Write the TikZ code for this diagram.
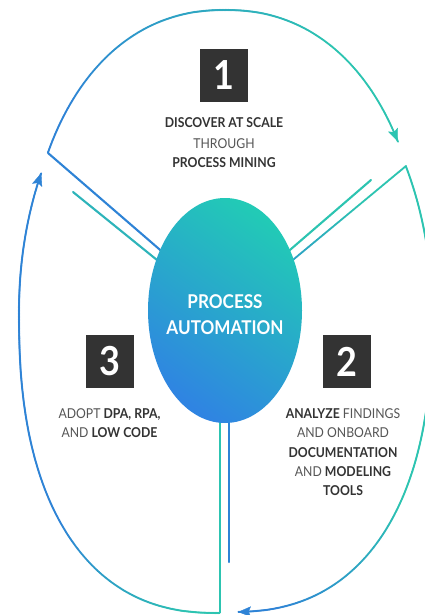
\documentclass[tikz,border=0pt]{standalone}
\usepackage{fontspec}
\setmainfont{Lato}[FakeStretch=0.9]
\usetikzlibrary{decorations.markings,arrows.meta,shapes.geometric}
\definecolor{cblue}{HTML}{2E83D6}
\definecolor{cteal}{HTML}{2CC4B1}
\definecolor{eblue}{HTML}{2F84E2}
\definecolor{eteal}{HTML}{22CAB6}
\definecolor{boxgray}{HTML}{333333}
\definecolor{txtdark}{HTML}{333333}
\definecolor{txtlight}{HTML}{555555}
\newcommand\boldpart[1]{{\color{txtdark}\bfseries #1}}
\tikzset{
  declare function={
    spx(\t,\n)=(cos(\t)<0 ? -1 : 1)*pow(abs(cos(\t)),2/\n);
    spy(\t,\n)=(sin(\t)<0 ? -1 : 1)*pow(abs(sin(\t)),2/\n);
  },
  grad/.style n args={4}{postaction={decorate}, decoration={markings,
     mark=between positions 0 and 1 step 0.6pt with {
       \pgfmathsetmacro\gfrac{(\pgfkeysvalueof{/pgf/decoration/mark info/distance from start}/\pgfdecoratedpathlength - #3)/(#4-#3)}
       \pgfmathtruncatemacro\gp{100*max(0,min(1,\gfrac))}
       \fill[#2!\gp!#1] (0,0) circle (1.05pt);
     }}},
  gradarrow/.style n args={5}{postaction={decorate}, decoration={markings,
     mark=between positions 0 and 1 step 0.6pt with {
       \pgfmathsetmacro\gfrac{(\pgfkeysvalueof{/pgf/decoration/mark info/distance from start}/\pgfdecoratedpathlength - #3)/(#4-#3)}
       \pgfmathtruncatemacro\gp{100*max(0,min(1,\gfrac))}
       \fill[#2!\gp!#1] (0,0) circle (1.05pt);
     },
     mark=at position 1 with {\arrow{Stealth[length=13pt,width=10.5pt,inset=2.5pt,color=#5]}}}},
  solidline/.style={line width=2.1pt},
  numbox/.style={fill=boxgray, text=white, minimum width=48pt, minimum height=53pt, inner sep=0pt,
     font=\bfseries\fontsize{40}{40}\selectfont},
  tline/.style={anchor=base, inner sep=0pt, text=txtlight, font=\fontsize{13.6}{13.6}\selectfont},
  ctext/.style={anchor=base, inner sep=0pt, text=white, font=\bfseries\fontsize{19}{19}\selectfont},
}
\begin{document}
\begin{tikzpicture}[x=1pt,y=-1pt]
\useasboundingbox (0,0) rectangle (425,615);
\fill[white] (0,0) rectangle (425,615);
% apexes and corners
\coordinate (a1) at (225,306);
\coordinate (a2) at (229,313);
\coordinate (a3) at (220,311);
\coordinate (c1) at (48,153);
\coordinate (f1) at (371,180);
\coordinate (c2) at (406,166);
\coordinate (f2) at (229,562);
\coordinate (c3) at (220,613);
\coordinate (f3) at (73,192);
% radial lines
\draw[solidline, cblue, line cap=round] (c1) -- (a1);
\draw[solidline, cteal, line cap=round] (f1) -- (a1);
\path[grad={cteal}{cblue}{0.25}{1}] (c2) -- (a2);
\draw[solidline, cblue, line cap=round] (f2) -- (a2);
\draw[solidline, cteal] (c3) -- (a3);
\draw[solidline, cteal!75!cblue, line cap=round] (f3) -- (a3);
% arcs
\path[gradarrow={cblue}{cteal}{0.1}{0.75}{cteal}]
  plot[domain=150.96:31.55, samples=81] ({225+200*spx(\x,2.2)},{306-296*spy(\x,2.2)});
\path[gradarrow={cteal}{cblue}{0.62}{0.93}{cblue}]
  plot[domain=-29.3:88.63, samples=121] ({229+203*spx(\x,(\x<0 ? 2 : 2.4))},{313+299*spy(\x,(\x<0 ? 2 : 2.4))});
\path[gradarrow={cteal}{cblue}{0.05}{0.35}{cblue}]
  plot[domain=90.05:207.2, samples=121] ({220+201*spx(\x,(\x<180 ? 2.4 : 2))},{311+302*spy(\x,(\x<180 ? 2.4 : 2))});
% centre ellipse
\node[ellipse, minimum width=154pt, minimum height=225pt, inner sep=0pt,
      top color=eteal, bottom color=eblue, shading angle=-35] (core) at (225,310.5) {};
\node[ctext] (core1) at (225,308) {PROCESS};
\node[ctext] (core2) at (225,334) {AUTOMATION};
% number boxes
\node[numbox] (n1) at (224,75.5) {1};
\node[numbox] (n3) at (109.5,361.5) {3};
\node[numbox] (n2) at (346.5,361.5) {2};
% texts
\node[tline] (t1a) at (224,128) {\boldpart{DISCOVER AT SCALE}};
\node[tline] (t1b) at (224,148) {THROUGH};
\node[tline] (t1c) at (224,167) {\boldpart{PROCESS MINING}};
\node[tline] (t3a) at (109.5,418) {ADOPT \boldpart{DPA, RPA,}};
\node[tline] (t3b) at (109.5,437) {AND \boldpart{LOW CODE}};
\node[tline] (t2a) at (343,418) {\boldpart{ANALYZE} FINDINGS};
\node[tline] (t2b) at (343,437) {AND ONBOARD};
\node[tline] (t2c) at (343,457) {\boldpart{DOCUMENTATION}};
\node[tline] (t2d) at (343,476) {AND \boldpart{MODELING}};
\node[tline] (t2e) at (343,495) {\boldpart{TOOLS}};
\end{tikzpicture}
\end{document}
